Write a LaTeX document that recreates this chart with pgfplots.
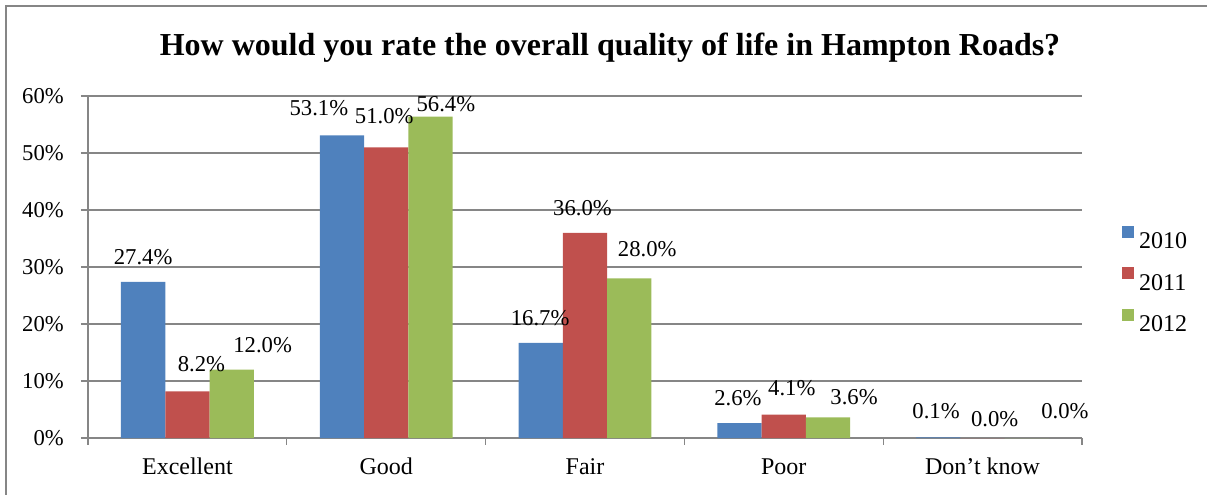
\documentclass[border=0pt]{standalone}
\usepackage{fontspec}
\setmainfont{Liberation Serif}
\usepackage{pgfplots}
\pgfplotsset{compat=1.18}
\definecolor{gridgray}{RGB}{134,134,134}
\definecolor{cA}{RGB}{79,129,189}
\definecolor{cB}{RGB}{192,80,77}
\definecolor{cC}{RGB}{155,187,89}
% label: {x offset pt}{y offset above bar top pt}{text}
\newcommand\lbl[3]{\raisebox{#2pt}{\makebox[0pt]{\hspace{#1pt}\hspace{#1pt}#3\%}}}
\begin{document}
\begin{tikzpicture}
\path[use as bounding box] (0,0) rectangle (905.25pt,-370.5pt);
\draw[gridgray, line width=1pt] (4.5pt,-371pt) -- (4.5pt,-4.5pt) -- (906pt,-4.5pt);
\node[font=\bfseries\fontsize{24}{28}\selectfont, anchor=base] at (457.5pt,-41.25pt) {How would you rate the overall quality of life in Hampton Roads?};
\begin{axis}[
  at={(66pt,-328.5pt)}, anchor=south west,
  scale only axis, width=745.5pt, height=256.5pt,
  xmin=-0.5, xmax=4.5, ymin=0, ymax=60,
  ybar=0pt, bar width=33.2pt,
  clip=false,
  /pgf/number format/assume math mode=true,
  font=\fontsize{17}{20}\selectfont,
  xtick={0,1,2,3,4},
  xticklabels={Excellent,Good,Fair,Poor,Don’t know},
  major x tick style={draw=none},
  minor xtick={-0.5,0.5,1.5,2.5,3.5,4.5},
  ytick={0,10,20,30,40,50,60},
  yticklabel={\pgfmathprintnumber{\tick}\%},
  axis lines=left,
  axis line style={-, gridgray, line width=1pt},
  tick align=outside,
  major tick length=5.25pt, minor tick length=5pt,
  tick style={gridgray, line width=1pt},
  ymajorgrids,
  grid style={gridgray, line width=1.1pt},
  yticklabel style={anchor=east, inner sep=0pt, xshift=-12.75pt},
  xticklabel style={anchor=base, inner sep=0pt, yshift=-22pt, font=\fontsize{18}{20}\selectfont},
  legend image code/.code={\fill[#1] (0pt,2.25pt) rectangle (9pt,11.25pt);},
  legend style={at={(1.0402,0.466)}, anchor=west, draw=none, fill=none,
    inner sep=0pt, row sep=14pt, column sep=3.75pt,
    nodes={inner sep=0pt, text depth=0pt},
    font=\fontsize{18}{20}\selectfont},
  legend cell align=left,
  point meta=explicit symbolic,
  nodes near coords={\pgfplotspointmeta},
  nodes near coords style={anchor=base, inner sep=0pt, black, font=\fontsize{17}{20}\selectfont},
]
\addplot[fill=cA, draw=none] coordinates {
  (0,27.4) [\lbl{0}{13.3}{27.4}]
  (1,53.1) [\lbl{-17.25}{15}{53.1}]
  (2,16.7) [\lbl{-0.45}{13.35}{16.7}]
  (3,2.6)  [\lbl{-1.2}{13.5}{2.6}]
  (4,0.1)  [\lbl{-1.7}{14.25}{0.1}]
};
\addplot[fill=cB, draw=none] coordinates {
  (0,8.2)  [\lbl{10.5}{14.7}{8.2}]
  (1,51.0) [\lbl{-1.5}{18}{51.0}]
  (2,36.0) [\lbl{-1.9}{13.35}{36.0}]
  (3,4.1)  [\lbl{6}{14.7}{4.1}]
  (4,0.0)  [\lbl{9}{8.5}{0.0}]
};
\addplot[fill=cC, draw=none] coordinates {
  (0,12.0) [\lbl{23.25}{13.2}{12.0}]
  (1,56.4) [\lbl{11.6}{3.75}{56.4}]
  (2,28.0) [\lbl{13.5}{16.3}{28.0}]
  (3,3.6)  [\lbl{19.5}{9.4}{3.6}]
  (4,0.0)  [\lbl{28.5}{14.8}{0.0}]
};
\legend{2010,2011,2012}
\end{axis}
\end{tikzpicture}
\end{document}
